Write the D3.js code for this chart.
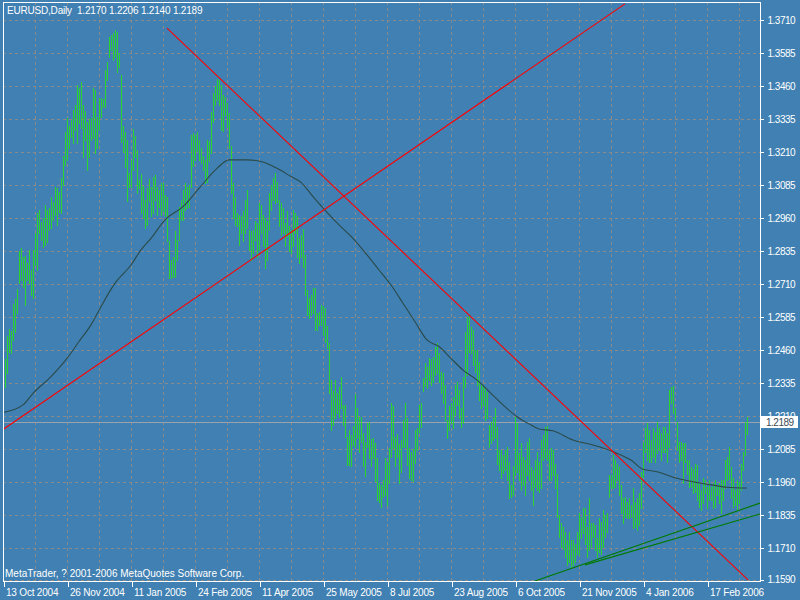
<!DOCTYPE html>
<html><head><meta charset="utf-8">
<script src="https://cdn.jsdelivr.net/npm/d3@7"></script>
<style>
html,body{margin:0;padding:0;background:#4080b2;}
svg{display:block;}
text{font-family:Tahoma,"Liberation Sans",Arial,sans-serif;font-size:10px;fill:#fff;}
</style></head>
<body>
<svg id="c" width="800" height="600"></svg>
<script>
// ---------------- data ----------------
const symbol = "EURUSD,Daily";
const lastOHLC = [1.2170, 1.2206, 1.2140, 1.2189];
const bidPrice = 1.2189;
const copyright = "MetaTrader, ? 2001-2006 MetaQuotes Software Corp.";

const highs = [
1.2362,1.2425,1.2513,1.2538,1.2533,1.2634,1.2652,1.2690,1.2836,1.2845,
1.2814,1.2816,1.2788,1.2839,1.2763,1.2839,1.2904,1.2978,1.2990,1.2946,
1.2959,1.3009,1.2990,1.2997,1.3041,1.3022,1.3079,1.3072,1.3060,1.3110,
1.3195,1.3287,1.3338,1.3308,1.3331,1.3369,1.3388,1.3464,1.3451,1.3476,
1.3388,1.3367,1.3325,1.3334,1.3338,1.3451,1.3445,1.3341,1.3413,1.3413,
1.3409,1.3521,1.3552,1.3647,1.3653,1.3659,1.3672,1.3666,1.3584,1.3502,
1.3308,1.3287,1.3255,1.3129,1.3180,1.3296,1.3271,1.3218,1.3104,1.3127,
1.3081,1.3028,1.3072,1.3106,
1.3079,1.3117,1.3123,1.3079,1.3067,1.3092,1.3094,1.3048,1.3041,1.2871,
1.2801,1.2814,1.2909,1.2877,1.3003,1.3029,1.3067,1.3092,1.3079,1.3086,
1.3275,1.3281,1.3275,1.3284,1.3256,1.3224,1.3193,1.3180,1.3256,1.3253,
1.3363,1.3433,1.3458,1.3486,1.3483,1.3464,1.3426,1.3420,1.3395,1.3357,
1.3231,1.3092,1.3041,1.2978,1.2972,1.2966,1.2985,1.3029,1.3067,1.2915,
1.2909,1.2915,1.2947,1.2940,1.3016,1.3010,1.2972,1.2959,1.2947,1.3054,
1.3086,1.3111,1.3130,1.3098,1.3029,1.3016,1.2997,1.2940,1.2985,1.2928,
1.2915,1.2991,1.2978,1.2966,1.2883,
1.2896,1.2917,1.2820,1.2688,1.2656,1.2669,1.2694,1.2694,1.2599,1.2602,
1.2631,1.2625,1.2618,1.2551,1.2488,1.2347,1.2303,1.2347,1.2296,1.2319,
1.2356,1.2252,1.2252,1.2132,1.2157,1.2138,1.2173,1.2292,1.2242,1.2208,
1.2208,1.2147,1.2113,1.2185,1.2189,1.2122,1.2128,1.2107,1.2050,1.1958,
1.1949,1.1968,1.2050,1.2037,1.2090,1.2258,1.2246,1.2130,1.2142,1.2103,
1.2120,1.2193,1.2258,1.2204,1.2088,1.2075,1.2084,1.2157,1.2166,1.2252,
1.2258,1.2353,1.2410,1.2397,1.2429,1.2425,1.2435,1.2473,1.2488,1.2448,
1.2375,1.2372,1.2328,1.2195,1.2246,
1.2258,1.2283,1.2327,1.2340,1.2308,1.2239,1.2359,1.2529,1.2586,1.2592,
1.2548,1.2535,1.2460,1.2460,1.2416,1.2333,1.2327,1.2315,1.2302,1.2176,
1.2188,1.2207,1.2239,1.2169,1.2081,1.2081,1.2062,1.2081,1.2094,1.2037,
1.1948,1.2020,1.2207,1.2182,1.2068,1.2106,1.2056,1.2043,1.2113,1.2125,
1.2018,1.2005,1.2043,1.2075,1.2037,1.2119,1.2138,1.2169,1.2172,1.2081,
1.2087,1.2081,1.2030,
1.1992,1.1835,1.1803,1.1790,1.1772,1.1740,1.1772,1.1740,1.1740,1.1727,
1.1772,1.1841,1.1828,1.1860,1.1860,1.1790,1.1898,1.1803,1.1803,1.1797,
1.1746,1.1822,1.1809,1.1854,1.1835,1.1841,1.1986,1.1986,1.2062,1.2043,
1.2030,1.2018,1.1948,1.1898,1.1904,1.1885,1.1898,1.1873,1.1936,1.1885,
1.1898,1.1917,1.1999,1.2112,1.2163,1.2182,1.2157,1.2119,1.2163,1.2150,
1.2188,1.2163,1.2144,1.2169,1.2169,1.2144,1.2308,1.2321,1.2323,1.2239,
1.2188,1.2112,1.2112,1.2106,1.2106,1.2043,1.2043,1.2018,1.2011,1.2030,
1.2024,1.1955,1.1929,1.1974,1.1967,1.1942,1.1967,1.1942,1.1955,1.1967,
1.1948,1.1955,1.1967,1.1967,1.2043,1.2056,1.2093,1.2018,1.1974,1.1929,
1.1967,1.1961,1.2030,1.2075,1.2188,1.2206
];
const lows = [
1.2283,1.2321,1.2372,1.2454,1.2450,1.2498,1.2529,1.2599,1.2713,1.2725,
1.2700,1.2630,1.2725,1.2713,1.2668,1.2656,1.2782,1.2763,1.2902,1.2877,
1.2851,1.2858,1.2870,1.2915,1.2921,1.2952,1.2971,1.2933,1.2984,1.2978,
1.3085,1.3161,1.3180,1.3224,1.3266,1.3243,1.3293,1.3243,1.3319,1.3300,
1.3190,1.3255,1.3142,1.3192,1.3255,1.3262,1.3205,1.3224,1.3293,1.3344,
1.3382,1.3382,1.3483,1.3571,1.3596,1.3558,1.3571,1.3511,1.3533,1.3249,
1.3211,1.3154,1.3026,1.3079,1.3079,1.3142,1.3192,1.3053,1.3072,1.2978,
1.2959,1.2921,1.2933,1.3026,
1.2966,1.2978,1.3029,1.2972,1.3003,1.2972,1.2985,1.2966,1.2871,1.2732,
1.2732,1.2738,1.2738,1.2801,1.2877,1.2953,1.2953,1.2991,1.2997,1.3003,
1.3079,1.3155,1.3180,1.3212,1.3180,1.3168,1.3142,1.3092,1.3098,1.3174,
1.3205,1.3325,1.3389,1.3407,1.3389,1.3294,1.3288,1.3351,1.3306,1.3224,
1.3054,1.2959,1.2934,1.2928,1.2858,1.2902,1.2871,1.2902,1.2921,1.2839,
1.2801,1.2827,1.2877,1.2814,1.2839,1.2902,1.2852,1.2770,1.2801,1.2915,
1.2991,1.3029,1.3016,1.3022,1.2928,1.2896,1.2902,1.2852,1.2890,1.2834,
1.2827,1.2852,1.2902,1.2814,1.2788,
1.2814,1.2776,1.2669,1.2593,1.2580,1.2593,1.2599,1.2536,1.2536,1.2555,
1.2555,1.2517,1.2492,1.2467,1.2296,1.2157,1.2176,1.2202,1.2221,1.2208,
1.2239,1.2176,1.2132,1.2025,1.2025,1.2019,1.2101,1.2094,1.2126,1.2072,
1.2113,1.2019,1.1983,1.2094,1.2050,1.2019,1.2050,1.1962,1.1892,1.1886,
1.1867,1.1905,1.1911,1.1873,1.1958,1.2056,1.2088,1.2021,1.2056,1.1958,
1.1996,1.2094,1.2094,1.2025,1.1974,1.1968,1.1965,1.2031,1.2082,1.2151,
1.2170,1.2303,1.2322,1.2315,1.2347,1.2328,1.2340,1.2366,1.2372,1.2340,
1.2296,1.2261,1.2195,1.2126,1.2157,
1.2182,1.2163,1.2214,1.2251,1.2201,1.2169,1.2182,1.2321,1.2365,1.2453,
1.2447,1.2403,1.2378,1.2327,1.2270,1.2239,1.2251,1.2195,1.2201,1.2094,
1.2106,1.2119,1.2125,1.2030,1.2005,1.1974,1.1993,1.2005,1.1967,1.1898,
1.1904,1.1910,1.1986,1.1999,1.1967,1.1929,1.1948,1.1910,1.1986,1.1967,
1.1929,1.1873,1.1942,1.1929,1.1923,1.1936,1.2043,1.2049,1.2043,1.1967,
1.1967,1.1986,1.1936,
1.1828,1.1753,1.1715,1.1708,1.1677,1.1645,1.1658,1.1639,1.1645,1.1658,
1.1689,1.1683,1.1746,1.1765,1.1727,1.1677,1.1702,1.1715,1.1753,1.1702,
1.1677,1.1696,1.1689,1.1715,1.1753,1.1772,1.1904,1.1936,1.1936,1.1942,
1.1967,1.1910,1.1841,1.1803,1.1828,1.1822,1.1822,1.1828,1.1784,1.1790,
1.1778,1.1797,1.1860,1.1980,1.2075,1.2043,1.2037,1.2037,1.2056,1.2037,
1.2068,1.2081,1.2043,1.2075,1.2075,1.2037,1.2093,1.2258,1.2220,1.2194,
1.2081,1.2037,1.2043,1.1955,1.2037,1.1992,1.1942,1.1942,1.1917,1.1923,
1.1891,1.1866,1.1854,1.1879,1.1917,1.1860,1.1891,1.1891,1.1860,1.1866,
1.1910,1.1879,1.1841,1.1891,1.1936,1.1967,1.1972,1.1898,1.1866,1.1873,
1.1854,1.1879,1.1929,1.2005,1.2062,1.2140
];

// moving average, read at bar indices
const maIdx = [0,10,15,24,32,38,44,49,56,64,69,74,81,90,98,107,113,122,129,137,144,149,155,161,168,175,182,188,194,200,206,212,218,224,230,237,244,250,257,264,268,275,285,295,305,314,320,327,337,345,355,362,372];
const maVal = [1.2223,1.2252,1.2296,1.2359,1.2428,1.2492,1.2555,1.2624,1.2713,1.2782,1.2839,1.2883,1.2953,1.3003,1.3072,1.3148,1.3180,1.3180,1.3174,1.3148,1.3117,1.3095,1.3041,1.2990,1.2934,1.2883,1.2820,1.2763,1.2706,1.2637,1.2567,1.2498,1.2473,1.2428,1.2384,1.2346,1.2296,1.2252,1.2207,1.2176,1.2161,1.2154,1.2119,1.2100,1.2075,1.2043,1.2008,1.1999,1.1974,1.1961,1.1948,1.1940,1.1937];

// trend lines: [barIndex, price] end points
const redLineA = [[82, 1.3679], [372.5, 1.1589]];
const redLineB = [[0, 1.2159], [311, 1.3771]];
const greenLineA = [[266, 1.1585], [378.5, 1.1880]];
const greenLineB = [[291, 1.1646], [378.5, 1.1839]];

const priceTicks = [1.3710,1.3585,1.3460,1.3335,1.3210,1.3085,1.2960,1.2835,1.2710,1.2585,1.2460,1.2335,1.2210,1.2085,1.1960,1.1835,1.1710,1.1590];
const dateTickIdx = [0,32,64,96,128,160,192,224,256,288,320,352];
const dateLabels = ["13 Oct 2004","26 Nov 2004","11 Jan 2005","24 Feb 2005","11 Apr 2005","25 May 2005","8 Jul 2005","23 Aug 2005","6 Oct 2005","21 Nov 2005","4 Jan 2006","17 Feb 2006"];
const vGridIdx = d3.range(16, 370, 16);

// ---------------- drawing ----------------
const svg = d3.select("#c");
const L = 3, R = 760, T = 2, B = 581;
const x = d3.scaleLinear().domain([0, 378.5]).range([L, R]);
const y = d3.scaleLinear().domain([1.1585, 1.3778]).range([B, T]);
const px = v => Math.round(v) + 0.5;
const FONT = 'Tahoma,"Liberation Sans",Arial,sans-serif';

svg.append("rect").attr("width", 800).attr("height", 600).attr("fill", "#4080b2");

svg.append("clipPath").attr("id", "plot")
  .append("rect").attr("x", L).attr("y", T).attr("width", R - L).attr("height", B - T);

const grid = svg.append("g").attr("stroke", "#8a8a8a").attr("stroke-dasharray", "3,3")
  .attr("shape-rendering", "crispEdges");
grid.selectAll("line.h").data(priceTicks).join("line").attr("class", "h")
  .attr("x1", L).attr("x2", R).attr("y1", d => px(y(d))).attr("y2", d => px(y(d)));
grid.selectAll("line.v").data(vGridIdx).join("line").attr("class", "v")
  .attr("y1", T).attr("y2", B).attr("x1", d => px(x(d))).attr("x2", d => px(x(d)));

// bid line
svg.append("line").attr("x1", L).attr("x2", R)
  .attr("y1", px(y(bidPrice))).attr("y2", px(y(bidPrice)))
  .attr("stroke", "#9aa3ad").attr("shape-rendering", "crispEdges");

const plot = svg.append("g").attr("clip-path", "url(#plot)");

// bars
plot.append("g").attr("stroke", "#2ad42a").attr("shape-rendering", "crispEdges")
  .selectAll("line").data(highs).join("line")
  .attr("x1", (d, i) => px(x(i))).attr("x2", (d, i) => px(x(i)))
  .attr("y1", d => Math.round(y(d))).attr("y2", (d, i) => Math.round(y(lows[i])) + 1);

// moving average
const maPts = maIdx.map((d, i) => [d, maVal[i]]);
plot.append("path").datum(maPts)
  .attr("d", d3.line().x(d => x(d[0])).y(d => y(d[1])).curve(d3.curveMonotoneX))
  .attr("fill", "none").attr("stroke", "#2b4a4a").attr("stroke-width", 1.1);

// trend lines
const tl = d3.line().x(d => x(d[0])).y(d => y(d[1]));
[[redLineA, "#ff0000"], [redLineB, "#ff0000"], [greenLineA, "#007a00"], [greenLineB, "#007a00"]]
  .forEach(([pts, col]) => {
    plot.append("path").datum(pts).attr("d", tl)
      .attr("fill", "none").attr("stroke", col).attr("stroke-width", 1.1);
  });

// frame
svg.append("rect").attr("x", L + 0.5).attr("y", T + 0.5).attr("width", R - L).attr("height", B - T)
  .attr("fill", "none").attr("stroke", "#fff").attr("shape-rendering", "crispEdges");

// right axis
const yAxis = d3.axisRight(y).tickValues(priceTicks).tickSize(3).tickPadding(4)
  .tickFormat(d3.format(".4f"));
const ya = svg.append("g").attr("transform", `translate(${R + 0.5},0)`).call(yAxis);
ya.select(".domain").remove();
ya.selectAll("line").attr("stroke", "#fff").attr("shape-rendering", "crispEdges");
ya.selectAll("text").attr("fill", "#fff").style("font-size", "10px")
  .style("font-family", FONT).attr("letter-spacing", "-0.5");

// bottom axis
const xAxis = d3.axisBottom(x).tickValues(dateTickIdx).tickSize(5).tickPadding(2)
  .tickFormat((d, i) => dateLabels[i]);
const xa = svg.append("g").attr("transform", `translate(0.5,${B + 0.5})`).call(xAxis);
xa.select(".domain").remove();
xa.selectAll("line").attr("stroke", "#fff").attr("shape-rendering", "crispEdges");
xa.selectAll("text").attr("fill", "#fff").attr("text-anchor", "start").attr("x", 2)
  .style("font-size", "10px").style("font-family", FONT)
  .attr("letter-spacing", "-0.2");

// current price box (drawn over the partly hidden 1.2210 label, as in the original)
const by = Math.round(y(bidPrice));
svg.append("rect").attr("x", R + 1).attr("y", by - 6).attr("width", 37).attr("height", 12).attr("fill", "#fff");
svg.append("text").attr("x", R + 6).attr("y", by + 4).text(d3.format(".4f")(bidPrice))
  .style("fill", "#3d4a57").attr("letter-spacing", "-0.5");

// title and copyright
svg.append("text").attr("x", 7).attr("y", 14).attr("xml:space", "preserve")
  .style("white-space", "pre").style("font-size", "10px").attr("letter-spacing", "-0.2")
  .text(symbol + "  " + lastOHLC.map(d3.format(".4f")).join(" "));
svg.append("text").attr("x", 5).attr("y", 577).text(copyright);
</script>
</body></html>
